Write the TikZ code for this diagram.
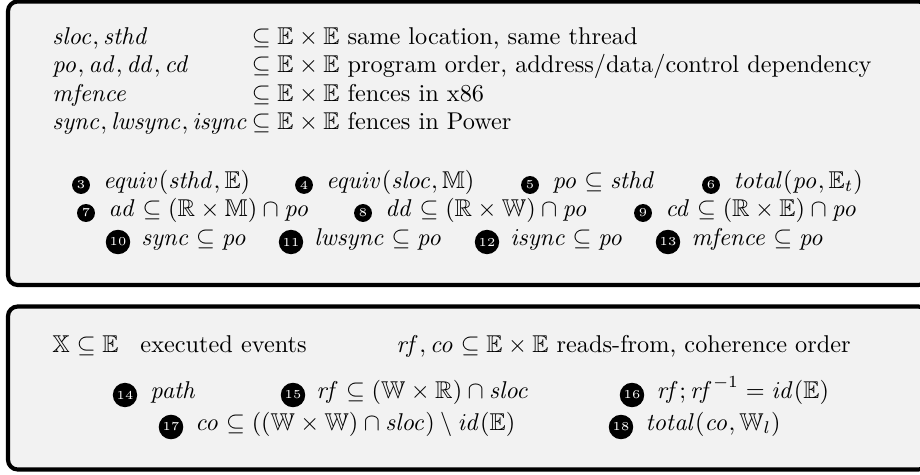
\documentclass[tikz,border=0pt]{standalone}
\usepackage{amssymb}
\newcommand{\idf}[1]{\mathit{#1}}
\begin{document}
\begin{tikzpicture}[x=0.4115pt,y=-0.4115pt,
 panel/.style={draw=black,line width=1.7pt,fill=black!5,rounded corners=4pt},
 num/.style={circle,fill=black,text=white,inner sep=0.9pt,font=\tiny},
 txt/.style={anchor=base west,inner sep=0pt}]
\useasboundingbox (0,0) rectangle (920,474);
\begin{scope}
\clip (0,0) rectangle (920,474);
\draw[panel] (8,1.5) rectangle (928,285);
\draw[panel] (8,306.5) rectangle (928,469.5);
\end{scope}
% definitions
\node[txt] (defs) at (52,44.5) {\def\arraystretch{0.97}\begin{tabular}[t]{@{}l@{\,}l@{}}
$\idf{sloc}, \idf{sthd}$ & $\subseteq \mathbb{E}\times\mathbb{E}$ same location, same thread\\
$\idf{po}, \idf{ad}, \idf{dd}, \idf{cd}$ & $\subseteq \mathbb{E}\times\mathbb{E}$ program order, address/data/control dependency\\
$\idf{mfence}$ & $\subseteq \mathbb{E}\times\mathbb{E}$ fences in x86\\
$\idf{sync}, \idf{lwsync}, \idf{isync}$ & $\subseteq \mathbb{E}\times\mathbb{E}$ fences in Power
\end{tabular}};
% row A
\node[num] (n3) at (81,185) {3};
\node[txt] (t3) at (103,188) {$\idf{equiv}(\idf{sthd},\mathbb{E})$};
\node[num] (n4) at (304,185) {4};
\node[txt] (t4) at (326,188) {$\idf{equiv}(\idf{sloc},\mathbb{M})$};
\node[num] (n5) at (530,185) {5};
\node[txt] (t5) at (552,188) {$\idf{po}\subseteq \idf{sthd}$};
\node[num] (n6) at (711,185) {6};
\node[txt] (t6) at (733,188) {$\idf{total}(\idf{po},\mathbb{E}_t)$};
% row B
\node[num] (n7) at (86,213) {7};
\node[txt] (t7) at (108,216) {$\idf{ad}\subseteq(\mathbb{R}\times\mathbb{M})\cap \idf{po}$};
\node[num] (n8) at (363,213) {8};
\node[txt] (t8) at (385,216) {$\idf{dd}\subseteq(\mathbb{R}\times\mathbb{W})\cap \idf{po}$};
\node[num] (n9) at (643,213) {9};
\node[txt] (t9) at (665,216) {$\idf{cd}\subseteq(\mathbb{R}\times\mathbb{E})\cap \idf{po}$};
% row C
\node[num] (n10) at (118,242) {10};
\node[txt] (t10) at (141,245) {$\idf{sync}\subseteq \idf{po}$};
\node[num] (n11) at (291,242) {11};
\node[txt] (t11) at (314,245) {$\idf{lwsync}\subseteq \idf{po}$};
\node[num] (n12) at (487,242) {12};
\node[txt] (t12) at (510,245) {$\idf{isync}\subseteq \idf{po}$};
\node[num] (n13) at (668,242) {13};
\node[txt] (t13) at (691,245) {$\idf{mfence}\subseteq \idf{po}$};
% box 2
\node[txt] (x1) at (52,352) {$\mathbb{X}\subseteq\mathbb{E}$};
\node[txt] (x2) at (140,352) {executed events};
\node[txt] (x3) at (396,352) {$\idf{rf}, \idf{co}\subseteq\mathbb{E}\times\mathbb{E}$ reads-from, coherence order};
\node[num] (n14) at (125,395) {14};
\node[txt] (t14) at (150,398) {$\idf{path}$};
\node[num] (n15) at (293,395) {15};
\node[txt] (t15) at (316,398) {$\idf{rf}\subseteq(\mathbb{W}\times\mathbb{R})\cap \idf{sloc}$};
\node[num] (n16) at (632,395) {16};
\node[txt] (t16) at (656,398) {$\idf{rf};\idf{rf}^{-1}=\idf{id}(\mathbb{E})$};
\node[num] (n17) at (171,427) {17};
\node[txt] (t17) at (195,430) {$\idf{co}\subseteq((\mathbb{W}\times\mathbb{W})\cap \idf{sloc})\setminus \idf{id}(\mathbb{E})$};
\node[num] (n18) at (621,427) {18};
\node[txt] (t18) at (645,430) {$\idf{total}(\idf{co},\mathbb{W}_l)$};
\end{tikzpicture}
\end{document}
